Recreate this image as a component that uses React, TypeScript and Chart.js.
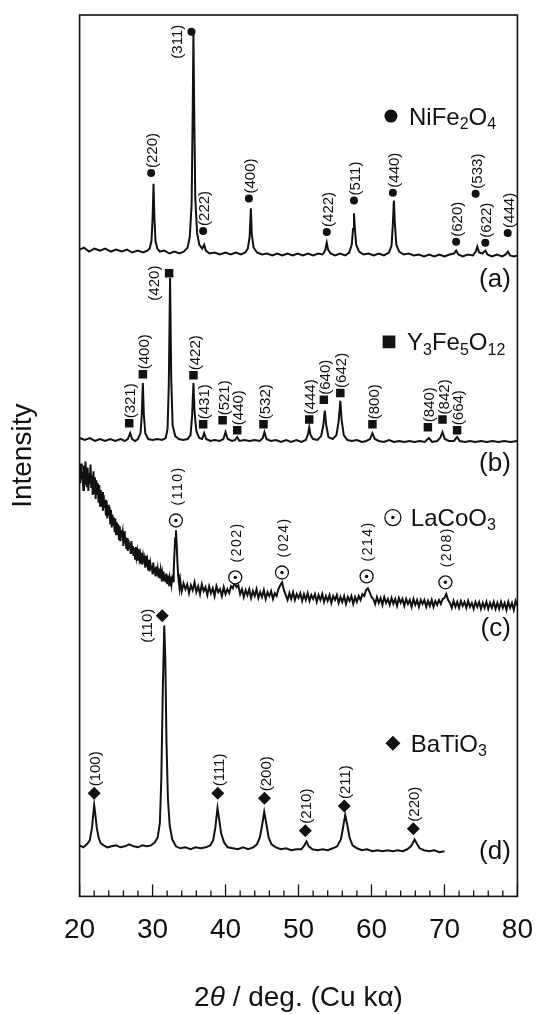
import { useEffect, useRef } from 'react';
import { Chart, registerables } from 'chart.js';

Chart.register(...registerables);

const FONT = '"Liberation Sans", Arial, Helvetica, sans-serif';
const INK = '#111';

// ---------------- axes ----------------
const xMajorTicks = [20, 30, 40, 50, 60, 70, 80];
const xMinorStep = 2;
const xTitleParts: [string, boolean][] = [['2', false], ['θ', true], [' / deg. (Cu kα)', false]];
const yTitle = 'Intensity';

// ---------------- (a) NiFe2O4 pattern [2θ, counts] ----------------
const niPattern: [number, number][] = [
  [20, 659], [20.6, 661], [21.3, 657], [22, 660], [22.8, 658], [23.5, 660], [24.3, 657], [25, 659],
  [25.8, 657], [26.5, 659], [27.2, 656], [28, 658], [28.7, 656], [29.3, 658], [29.6, 660], [29.85, 668],
  [30.0, 690], [30.13, 726], [30.25, 692], [30.4, 668], [30.65, 660], [31, 657], [31.6, 658], [32.3, 655],
  [33, 657], [33.7, 655], [34.3, 657], [34.8, 661], [35.1, 672], [35.35, 705], [35.5, 800], [35.6, 880],
  [35.7, 805], [35.85, 712], [36.1, 676], [36.4, 664], [36.8, 660], [37.07, 664], [37.3, 658], [37.8, 655],
  [38.5, 656], [39.2, 654], [40, 656], [40.7, 654], [41.4, 656], [42.1, 654], [42.7, 656], [43.05, 660],
  [43.3, 672], [43.47, 701], [43.6, 674], [43.85, 661], [44.3, 656], [45, 654], [45.7, 655], [46.4, 653],
  [47.1, 655], [47.8, 653], [48.5, 655], [49.2, 653], [49.9, 655], [50.6, 653], [51.3, 655], [52, 653],
  [52.7, 655], [53.3, 654], [53.65, 658], [53.87, 666], [54.05, 659], [54.4, 655], [55, 653], [55.7, 655],
  [56.4, 653], [56.95, 656], [57.3, 664], [57.47, 680], [57.6, 696], [57.72, 681], [57.9, 664], [58.3, 657],
  [58.9, 654], [59.6, 655], [60.3, 653], [61, 655], [61.7, 653], [62.4, 656], [62.75, 663], [62.93, 685],
  [63.07, 709], [63.2, 686], [63.4, 664], [63.8, 657], [64.4, 654], [65.1, 655], [65.8, 653], [66.5, 654],
  [67.2, 652], [67.9, 654], [68.6, 652], [69.3, 654], [70, 652], [70.7, 654], [71.3, 655], [71.6, 658],
  [71.9, 654], [72.5, 652], [73.2, 654], [73.9, 653], [74.3, 657], [74.5, 662], [74.75, 656], [75.2, 655],
  [75.6, 658], [75.9, 654], [76.5, 652], [77.2, 654], [77.9, 652], [78.4, 654], [78.7, 657], [79, 653],
  [79.5, 652], [80, 653],
];
const niHkl = ['(220)', '(311)', '(222)', '(400)', '(422)', '(511)', '(440)', '(620)', '(533)', '(622)', '(444)'];
const niMarkAngles = [29.8, 35.33, 36.93, 43.2, 53.87, 57.6, 62.93, 71.6, 74.27, 75.6, 78.67];
const niMarkCounts = [737, 881, 678, 711, 677, 709, 717, 667, 716, 666, 676];

// ---------------- (b) Y3Fe5O12 pattern ----------------
const yigPattern: [number, number][] = [
  [20, 467], [20.7, 465], [21.4, 467], [22.1, 464], [22.8, 466], [23.5, 464], [24.2, 466], [24.9, 464],
  [25.6, 466], [26.2, 464], [26.6, 466], [26.93, 472], [27.2, 466], [27.6, 464], [28.0, 466], [28.35, 472],
  [28.52, 490], [28.67, 523], [28.8, 492], [29.0, 472], [29.4, 466], [30, 465], [30.7, 466], [31.3, 465],
  [31.8, 467], [32.05, 476], [32.22, 520], [32.4, 630], [32.55, 530], [32.75, 480], [33.1, 469], [33.6, 466],
  [34.2, 465], [34.8, 466], [35.2, 470], [35.42, 490], [35.6, 523], [35.75, 494], [36.0, 474], [36.4, 467],
  [36.8, 466], [37.07, 472], [37.35, 466], [37.9, 464], [38.5, 465], [39.2, 464], [39.7, 466], [40.0, 473],
  [40.3, 466], [40.9, 464], [41.3, 465], [41.6, 468], [41.9, 464], [42.6, 465], [43.3, 464], [44, 465],
  [44.7, 464], [45.1, 467], [45.33, 473], [45.6, 466], [46.2, 464], [46.9, 465], [47.6, 463], [48.3, 465],
  [49, 463], [49.7, 465], [50.4, 463], [51.0, 465], [51.3, 471], [51.47, 478], [51.65, 470], [52.0, 466],
  [52.6, 465], [53.1, 469], [53.4, 480], [53.6, 495], [53.8, 480], [54.1, 468], [54.7, 466], [55.2, 470],
  [55.5, 484], [55.73, 505], [55.9, 486], [56.2, 470], [56.7, 465], [57.3, 464], [58.0, 465], [58.7, 463],
  [59.3, 464], [59.8, 466], [60.13, 472], [60.45, 466], [61, 464], [61.7, 463], [62.4, 465], [63.1, 463],
  [63.8, 464], [64.5, 463], [65.2, 464], [65.9, 463], [66.6, 464], [67.3, 463], [67.87, 467], [68.3, 463],
  [69, 464], [69.4, 467], [69.73, 473], [70.05, 466], [70.6, 464], [71.3, 464], [71.73, 468], [72.1, 464],
  [72.8, 463], [73.5, 464], [74.2, 463], [75, 464], [75.8, 463], [76.6, 464], [77.4, 463], [78.2, 464],
  [79, 463], [80, 464],
];
const yigHkl = ['(321)', '(400)', '(420)', '(422)', '(431)', '(521)', '(440)', '(532)', '(444)', '(640)', '(642)', '(800)', '(840)', '(842)', '(664)'];
const yigMarkAngles = [26.8, 28.67, 32.27, 35.6, 36.93, 39.6, 41.6, 45.2, 51.47, 53.47, 55.73, 60.13, 67.73, 69.73, 71.73];
const yigMarkCounts = [482, 532, 635, 531, 481, 485, 475, 481, 486, 506, 513, 481, 478, 486, 475];

// ---------------- (c) LaCoO3 pattern (noisy) ----------------
const lcoPattern: [number, number][] = [
  [20.0, 436], [20.1, 421], [20.2, 441], [20.3, 425], [20.4, 432], [20.5, 414], [20.6, 439], [20.7, 419],
  [20.8, 443], [20.9, 428], [21.0, 417], [21.1, 437], [21.2, 413], [21.3, 431], [21.4, 420], [21.5, 440],
  [21.6, 416], [21.7, 429], [21.8, 409], [21.9, 433], [22.0, 411], [22.1, 427], [22.2, 405], [22.3, 424],
  [22.4, 410], [22.5, 421], [22.6, 401], [22.7, 419], [22.8, 398], [22.9, 414], [23.0, 402], [23.1, 412],
  [23.2, 393], [23.3, 409], [23.4, 396], [23.5, 404], [23.6, 388], [23.7, 403], [23.8, 385], [23.9, 399],
  [24.0, 388], [24.1, 397], [24.2, 380], [24.3, 394], [24.4, 376], [24.5, 389], [24.6, 379], [24.7, 386],
  [24.8, 371], [24.9, 385], [25.0, 369], [25.1, 381], [25.2, 372], [25.3, 379], [25.4, 364], [25.5, 377],
  [25.6, 362], [25.7, 373], [25.8, 366], [25.9, 371], [26.0, 357], [26.1, 372], [26.2, 360], [26.3, 366],
  [26.4, 354], [26.5, 365], [26.6, 352], [26.7, 363], [26.8, 355], [26.9, 360], [27.0, 349], [27.1, 362],
  [27.2, 350], [27.3, 357], [27.4, 347], [27.5, 355], [27.6, 344], [27.7, 356], [27.8, 346], [27.9, 351],
  [28.0, 342], [28.1, 354], [28.2, 344], [28.3, 348], [28.4, 339], [28.5, 350], [28.6, 338], [28.7, 346],
  [28.8, 340], [28.9, 344], [29.0, 335], [29.1, 347], [29.2, 336], [29.3, 341], [29.4, 333], [29.5, 343],
  [29.6, 331], [29.7, 339], [29.8, 334], [29.9, 337], [30.0, 328], [30.1, 340], [30.2, 330], [30.3, 335],
  [30.4, 326], [30.5, 336], [30.6, 327], [30.7, 333], [30.8, 325], [30.9, 334], [31.0, 324], [31.1, 332],
  [31.2, 326], [31.3, 330], [31.4, 321], [31.5, 331], [31.6, 322], [31.7, 328], [31.8, 320], [31.9, 329],
  [32.0, 319], [32.1, 327], [32.2, 321], [32.3, 325], [32.4, 317], [32.5, 326], [32.6, 318], [32.7, 324],
  [32.8, 321], [32.9, 333], [33.0, 350], [33.1, 365], [33.2, 373], [33.3, 360], [33.4, 341], [33.5, 328],
  [33.6, 320], [33.7, 314], [33.8, 322],
  [34.0, 311], [34.25, 319], [34.5, 313], [34.75, 318], [35.0, 309], [35.25, 317], [35.5, 312], [35.75, 320],
  [36.0, 310], [36.25, 316], [36.5, 308], [36.75, 318], [37.0, 311], [37.25, 315], [37.5, 307], [37.75, 316],
  [38.0, 309], [38.25, 314], [38.5, 306], [38.75, 316], [39.0, 310], [39.25, 313], [39.5, 306], [39.75, 315],
  [40.0, 308], [40.25, 313], [40.5, 309], [40.75, 316], [41.0, 314], [41.25, 320], [41.5, 315], [41.75, 317],
  [42.0, 308], [42.25, 313], [42.5, 305], [42.75, 312], [43.0, 307], [43.25, 313], [43.5, 304], [43.75, 311],
  [44.0, 306], [44.25, 313], [44.5, 304], [44.75, 310], [45.0, 305], [45.25, 312], [45.5, 303], [45.75, 310],
  [46.0, 306], [46.25, 311], [46.5, 303], [46.75, 309], [47.0, 306], [47.25, 313], [47.5, 317], [47.75, 320],
  [48.0, 312], [48.25, 307], [48.5, 302], [48.75, 309], [49.0, 303], [49.25, 310], [49.5, 302], [49.75, 308],
  [50.0, 304], [50.25, 309], [50.5, 301], [50.75, 308], [51.0, 302], [51.25, 309], [51.5, 301], [51.75, 307],
  [52.0, 303], [52.25, 308], [52.5, 300], [52.75, 307], [53.0, 302], [53.25, 308], [53.5, 300], [53.75, 306],
  [54.0, 301], [54.25, 307], [54.5, 299], [54.75, 306], [55.0, 302], [55.25, 307], [55.5, 299], [55.75, 305],
  [56.0, 300], [56.25, 306], [56.5, 298], [56.75, 305], [57.0, 301], [57.25, 306], [57.5, 298], [57.75, 305],
  [58.0, 300], [58.25, 306], [58.5, 302], [58.75, 308], [59.0, 306], [59.25, 312], [59.5, 314], [59.75, 310],
  [60.0, 305], [60.25, 303], [60.5, 298], [60.75, 305], [61.0, 299], [61.25, 304], [61.5, 297], [61.75, 305],
  [62.0, 299], [62.25, 303], [62.5, 297], [62.75, 304], [63.0, 298], [63.25, 303], [63.5, 296], [63.75, 304],
  [64.0, 299], [64.25, 303], [64.5, 296], [64.75, 303], [65.0, 298], [65.25, 302], [65.5, 295], [65.75, 303],
  [66.0, 297], [66.25, 302], [66.5, 295], [66.75, 302], [67.0, 298], [67.25, 302], [67.5, 295], [67.75, 301],
  [68.0, 296], [68.25, 302], [68.5, 295], [68.75, 301], [69.0, 297], [69.25, 302], [69.5, 298], [69.75, 303],
  [70.0, 304], [70.25, 308], [70.5, 302], [70.75, 299], [71.0, 294], [71.25, 301], [71.5, 295], [71.75, 300],
  [72.0, 294], [72.25, 301], [72.5, 296], [72.75, 300], [73.0, 294], [73.25, 301], [73.5, 295], [73.75, 299],
  [74.0, 293], [74.25, 300], [74.5, 295], [74.75, 300], [75.0, 293], [75.25, 299], [75.5, 294], [75.75, 300],
  [76.0, 293], [76.25, 299], [76.5, 294], [76.75, 300], [77.0, 293], [77.25, 299], [77.5, 293], [77.75, 300],
  [78.0, 294], [78.25, 299], [78.5, 292], [78.75, 300], [79.0, 294], [79.25, 299], [79.5, 292], [79.75, 301],
  [80.0, 296],
];
const lcoHkl = ['(110)', '(202)', '(024)', '(214)', '(208)'];
const lcoMarkAngles = [33.2, 41.33, 47.73, 59.33, 70.13];
const lcoMarkCounts = [383, 325, 330, 326, 320];

// ---------------- (d) BaTiO3 pattern ----------------
const btoPattern: [number, number][] = [
  [20, 52], [20.5, 50], [21, 53], [21.4, 57], [21.7, 70], [21.85, 82], [22.0, 93], [22.15, 84],
  [22.35, 70], [22.6, 60], [22.9, 54], [23.3, 52], [23.8, 50], [24.4, 51], [25, 52], [25.6, 50],
  [26.2, 51], [26.8, 53], [27.4, 51], [28, 50], [28.6, 52], [29.2, 51], [29.8, 52], [30.3, 55],
  [30.7, 60], [31.0, 75], [31.2, 120], [31.4, 210], [31.6, 276], [31.75, 240], [31.9, 160], [32.1, 100],
  [32.35, 72], [32.7, 58], [33.2, 51], [33.8, 49], [34.5, 50], [35.2, 48], [35.9, 50], [36.6, 49],
  [37.3, 50], [37.9, 52], [38.3, 57], [38.6, 70], [38.9, 90], [39.1, 80], [39.4, 64], [39.8, 55],
  [40.3, 50], [41, 49], [41.7, 48], [42.4, 50], [43.1, 48], [43.8, 50], [44.3, 53], [44.7, 60],
  [45.0, 72], [45.3, 86], [45.55, 76], [45.9, 60], [46.3, 53], [46.9, 50], [47.6, 48], [48.3, 49],
  [49, 47], [49.7, 48], [50.4, 48], [50.8, 52], [51.1, 56], [51.4, 51], [51.9, 48], [52.6, 47],
  [53.3, 48], [54, 47], [54.7, 49], [55.3, 51], [55.8, 58], [56.1, 70], [56.4, 83], [56.65, 74],
  [57.0, 60], [57.4, 52], [58, 49], [58.7, 47], [59.4, 48], [60.1, 46], [60.8, 47], [61.5, 46],
  [62.2, 47], [62.9, 46], [63.6, 47], [64.3, 46], [64.9, 48], [65.4, 51], [65.7, 55], [65.9, 58],
  [66.2, 54], [66.6, 49], [67.2, 47], [67.9, 46], [68.6, 47], [69.3, 45], [70, 46],
];
const btoHkl = ['(100)', '(110)', '(111)', '(200)', '(210)', '(211)', '(220)'];
const btoMarkAngles = [22.0, 31.33, 38.93, 45.33, 50.93, 56.27, 65.73];
const btoMarkCounts = [105, 286, 105, 100, 67, 92, 69];

const formulas = ['NiFe2O4', 'Y3Fe5O12', 'LaCoO3', 'BaTiO3'];
const panelLabels = ['(a)', '(b)', '(c)', '(d)'];

// ---------------- layout / style (not data) ----------------
type Series = {
  pattern: [number, number][];
  hkl: string[];
  angles: number[];
  counts: number[];
  formula: string;
  panel: string;
  marker: 'circle' | 'rect' | 'odot' | 'rectRot';
  r: number;
  legendR: number;
  gap: number;
  leftLabel: string | null;
  legendAt: [number, number];
  panelAt: [number, number];
  labelFont: number;
  labelSpacing: string;
};

const SERIES: Series[] = [
  { pattern: niPattern, hkl: niHkl, angles: niMarkAngles, counts: niMarkCounts, formula: formulas[0], panel: panelLabels[0],
    marker: 'circle', r: 4, legendR: 6.5, gap: 5, leftLabel: '(311)', legendAt: [62.67, 795], panelAt: [79.1, 628], labelFont: 15, labelSpacing: '0px' },
  { pattern: yigPattern, hkl: yigHkl, angles: yigMarkAngles, counts: yigMarkCounts, formula: formulas[1], panel: panelLabels[1],
    marker: 'rect', r: 6, legendR: 9, gap: 5, leftLabel: '(420)', legendAt: [62.4, 565], panelAt: [79.1, 441], labelFont: 15, labelSpacing: '0px' },
  { pattern: lcoPattern, hkl: lcoHkl, angles: lcoMarkAngles, counts: lcoMarkCounts, formula: formulas[2], panel: panelLabels[2],
    marker: 'odot', r: 6.5, legendR: 8, gap: 15, leftLabel: null, legendAt: [62.93, 386], panelAt: [79.1, 273], labelFont: 14, labelSpacing: '1.5px' },
  { pattern: btoPattern, hkl: btoHkl, angles: btoMarkAngles, counts: btoMarkCounts, formula: formulas[3], panel: panelLabels[3],
    marker: 'rectRot', r: 6.5, legendR: 7.5, gap: 7, leftLabel: '(110)', legendAt: [62.93, 156], panelAt: [79.1, 45], labelFont: 15, labelSpacing: '0px' },
];

const LAYOUT_BOTTOM = 50;

function pointSets(s: Series, pts: { x: number; y: number }[], r: number, order: number) {
  const sets: any[] = [];
  if (s.marker === 'odot') {
    sets.push({ data: pts, showLine: false, pointStyle: 'circle', pointRadius: r, pointBackgroundColor: '#fff',
      pointBorderColor: INK, pointBorderWidth: 1.3, order: order });
    sets.push({ data: pts, showLine: false, pointStyle: 'circle', pointRadius: 1.7, pointBackgroundColor: INK,
      pointBorderColor: INK, pointBorderWidth: 0, order: order - 1 });
  } else {
    sets.push({ data: pts, showLine: false, pointStyle: s.marker, pointRadius: r, pointBackgroundColor: INK,
      pointBorderColor: INK, pointBorderWidth: 0, order: order });
  }
  return sets;
}

const decorPlugin = {
  id: 'xrdDecor',
  afterDatasetsDraw(chart: any) {
    const { ctx, chartArea } = chart;
    const xs = chart.scales.x;
    const ys = chart.scales.y;
    ctx.save();
    // frame
    ctx.strokeStyle = INK;
    ctx.lineWidth = 1.6;
    ctx.strokeRect(chartArea.left, chartArea.top, chartArea.right - chartArea.left, chartArea.bottom - chartArea.top);
    // inward ticks on bottom axis
    ctx.lineWidth = 1.3;
    for (const t of xs.ticks) {
      const px = xs.getPixelForValue(t.value);
      const major = xMajorTicks.includes(t.value);
      const len = major ? 12 : 6;
      ctx.beginPath();
      ctx.moveTo(px, chartArea.bottom);
      ctx.lineTo(px, chartArea.bottom - len);
      ctx.stroke();
    }
    ctx.fillStyle = INK;
    // x-axis title with italic theta
    {
      const size = 28;
      let total = 0;
      for (const [t, it] of xTitleParts) {
        ctx.font = `${it ? 'italic ' : ''}${size}px ${FONT}`;
        total += ctx.measureText(t).width;
      }
      let cx = (chartArea.left + chartArea.right) / 2 - total / 2;
      const cy = chart.height - LAYOUT_BOTTOM + 34;
      ctx.textAlign = 'left';
      ctx.textBaseline = 'middle';
      for (const [t, it] of xTitleParts) {
        ctx.font = `${it ? 'italic ' : ''}${size}px ${FONT}`;
        ctx.fillText(t, cx, cy);
        cx += ctx.measureText(t).width;
      }
    }
    for (const s of SERIES) {
      // peak labels
      ctx.font = `${s.labelFont}px ${FONT}`;
      (ctx as any).letterSpacing = s.labelSpacing;
      s.hkl.forEach((lab, i) => {
        const px = xs.getPixelForValue(s.angles[i]);
        const py = ys.getPixelForValue(s.counts[i]);
        ctx.save();
        if (lab === s.leftLabel) {
          ctx.translate(px - 14, py + 10);
          ctx.rotate(-Math.PI / 2);
          ctx.textAlign = 'center';
        } else {
          ctx.translate(px + 2, py - s.gap);
          ctx.rotate(-Math.PI / 2);
          ctx.textAlign = 'left';
        }
        ctx.textBaseline = 'middle';
        ctx.fillText(lab, 0, 0);
        ctx.restore();
      });
      (ctx as any).letterSpacing = '0px';
      // legend formula
      const lx = xs.getPixelForValue(s.legendAt[0]) + 18;
      const ly = ys.getPixelForValue(s.legendAt[1]);
      const size = 24;
      const parts = s.formula.split(/(\d+)/).filter((p) => p.length > 0);
      let cx = lx;
      ctx.textAlign = 'left';
      ctx.textBaseline = 'alphabetic';
      for (const p of parts) {
        const sub = /^\d+$/.test(p);
        ctx.font = `${sub ? Math.round(size * 0.66) : size}px ${FONT}`;
        ctx.fillText(p, cx, ly + size * 0.36 + (sub ? size * 0.18 : 0));
        cx += ctx.measureText(p).width;
      }
      // panel label
      ctx.font = `26px ${FONT}`;
      ctx.textAlign = 'right';
      ctx.textBaseline = 'middle';
      ctx.fillText(s.panel, xs.getPixelForValue(s.panelAt[0]), ys.getPixelForValue(s.panelAt[1]));
    }
    ctx.restore();
  },
};

export default function App() {
  const ref = useRef<HTMLCanvasElement | null>(null);
  useEffect(() => {
    document.body.style.margin = '0';
    const canvas = ref.current;
    if (!canvas) return;
    const datasets: any[] = [];
    SERIES.forEach((s) => {
      datasets.push({
        data: s.pattern.map(([x, y]) => ({ x, y })),
        showLine: true,
        borderColor: INK,
        borderWidth: 2,
        pointRadius: 0,
        tension: 0,
        order: 5,
      });
      const marks = s.angles.map((a, i) => ({ x: a, y: s.counts[i] }));
      datasets.push(...pointSets(s, marks, s.r, 3));
      datasets.push(...pointSets(s, [{ x: s.legendAt[0], y: s.legendAt[1] }], s.legendR, 3));
    });
    const chart = new Chart(canvas, {
      type: 'scatter',
      data: { datasets },
      options: {
        animation: false,
        responsive: false,
        devicePixelRatio: 1,
        layout: { padding: { left: 0, right: 20, top: 15, bottom: LAYOUT_BOTTOM } },
        plugins: { legend: { display: false }, tooltip: { enabled: false } },
        scales: {
          x: {
            type: 'linear',
            min: xMajorTicks[0],
            max: xMajorTicks[xMajorTicks.length - 1],
            grid: { display: false, drawTicks: false },
            border: { display: false },
            ticks: {
              stepSize: xMinorStep,
              autoSkip: false,
              maxRotation: 0,
              minRotation: 0,
              padding: 17,
              color: INK,
              font: { family: FONT, size: 28 },
              callback: (v: any) => (xMajorTicks.includes(Number(v)) ? String(v) : ''),
            },
            title: { display: false },
          },
          y: {
            type: 'linear',
            min: 0,
            max: 898,
            grid: { display: false, drawTicks: false },
            border: { display: false },
            ticks: { display: false },
            title: {
              display: true,
              text: yTitle,
              color: INK,
              font: { family: FONT, size: 28 },
              padding: { top: 6, bottom: 40 },
            },
          },
        },
      },
      plugins: [decorPlugin],
    });
    return () => chart.destroy();
  }, []);
  return (
    <div style={{ width: 550, height: 1014 }}>
      <canvas ref={ref} width={550} height={1014} style={{ display: 'block' }} />
    </div>
  );
}
